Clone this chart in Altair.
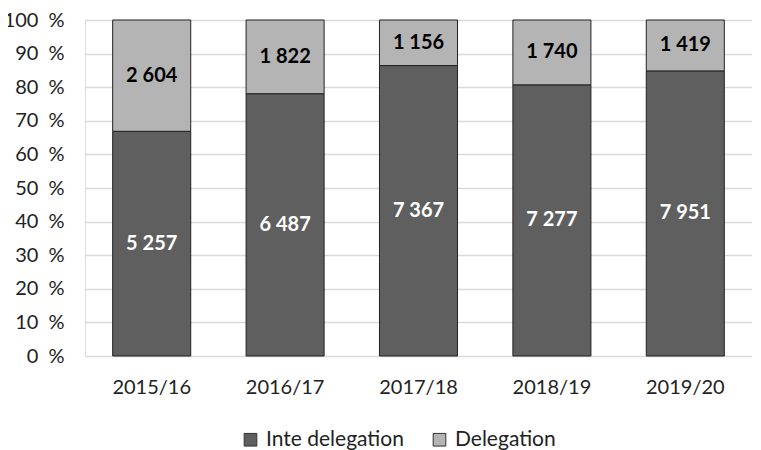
import altair as alt
import pandas as pd

years = ["2015/16", "2016/17", "2017/18", "2018/19", "2019/20"]
inte = [5257, 6487, 7367, 7277, 7951]
deleg = [2604, 1822, 1156, 1740, 1419]
series = ["Inte delegation", "Delegation"]
ytick_values = [0, 0.1, 0.2, 0.3, 0.4, 0.5, 0.6, 0.7, 0.8, 0.9, 1.0]
colors = ["#5f5f5f", "#b4b4b4"]
label_colors = ["#ffffff", "#000000"]

rows = []
for i, y in enumerate(years):
    tot = inte[i] + deleg[i]
    lo = 0.0
    for k, (s, v) in enumerate(zip(series, [inte[i], deleg[i]])):
        hi = lo + v / tot
        rows.append({
            "year": y, "series": s, "value": v, "order": k,
            "y0": lo, "y1": hi, "mid": (lo + hi) / 2,
            "label": f"{v:,}".replace(",", " "),
        })
        lo = hi
df = pd.DataFrame(rows)

FONT = "Lato"
TXT = "#222222"

x_axis = alt.Axis(labelAngle=0, ticks=False, domain=False, labelPadding=21,
                  labelFontSize=20, labelColor=TXT, labelFont=FONT)
y_axis = alt.Axis(values=ytick_values,
                  labelExpr="format(datum.value*100, '.0f') + '\u2002%'",
                  ticks=False, domain=False, labelPadding=21, labelOverlap=False,
                  labelFontSize=20, labelColor=TXT, labelFont=FONT,
                  grid=True, gridColor="#d9d9d9", gridWidth=1.5)
x_scale = alt.Scale(paddingInner=0.415, paddingOuter=0.2075)
y_scale = alt.Scale(domain=[0, 1], nice=False)

base = alt.Chart(df)

bars = base.mark_bar(stroke="#222222", strokeWidth=1).encode(
    x=alt.X("year:N", sort=years, title=None, scale=x_scale, axis=x_axis),
    y=alt.Y("y0:Q", title=None, scale=y_scale, axis=y_axis),
    y2="y1:Q",
    color=alt.Color("series:N", sort=series,
                    scale=alt.Scale(domain=series, range=colors),
                    legend=alt.Legend(title=None, orient="none", direction="horizontal",
                                      legendX=155, legendY=409, symbolType="square",
                                      symbolSize=160, symbolStrokeColor="#333333",
                                      symbolStrokeWidth=1, labelFontSize=21,
                                      labelFont=FONT, labelColor=TXT,
                                      columnPadding=25, symbolOffset=0, labelOffset=5)),
    order="order:Q",
)

text = base.mark_text(fontSize=20, fontWeight="bold", font=FONT).encode(
    x=alt.X("year:N", sort=years, title=None, scale=x_scale, axis=x_axis),
    y=alt.Y("mid:Q", title=None, scale=y_scale, axis=y_axis),
    text="label:N",
    color=alt.Color("series:N", scale=alt.Scale(domain=series, range=label_colors), legend=None),
)

chart = alt.layer(bars, text).resolve_scale(color="independent").properties(
    width=667, height=336,
    autosize=alt.AutoSizeParams(type="none"),
    padding={"left": 77, "top": 12, "right": 0, "bottom": 110},
).configure_view(stroke=None).configure(background="white")

chart.save("out.html", embed_options={"renderer": "svg", "actions": False})
